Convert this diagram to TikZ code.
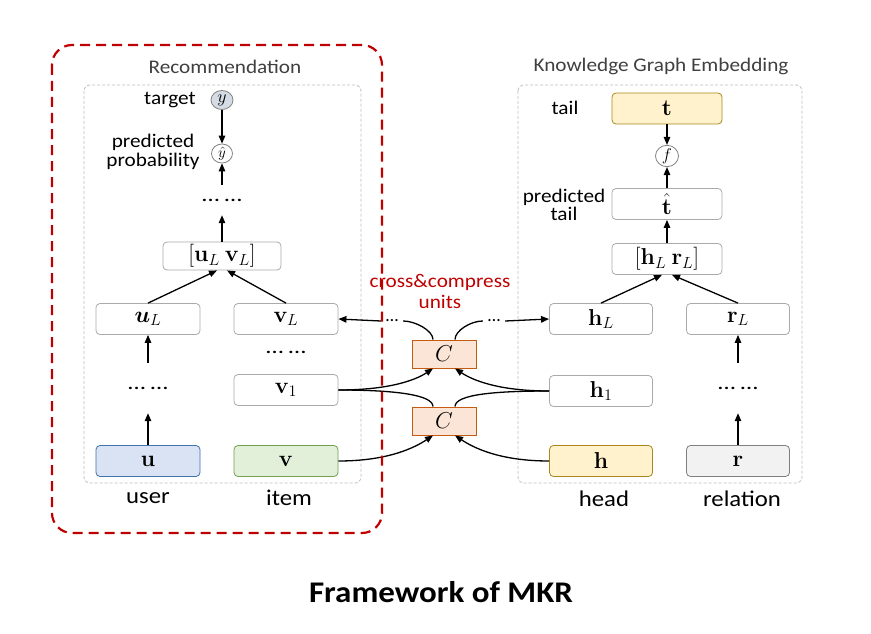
\RequirePackage{fix-cm}
\documentclass[tikz,border=0pt]{standalone}
\usepackage{amsmath,bm}
\usepackage[no-math]{fontspec}
\setmainfont{Carlito}
\usetikzlibrary{arrows.meta,shapes.geometric,calc}
\definecolor{boxgray}{RGB}{170,170,170}
\definecolor{dashgray}{RGB}{190,190,190}
\definecolor{ufill}{RGB}{218,227,243}
\definecolor{udraw}{RGB}{65,113,170}
\definecolor{vfill}{RGB}{226,240,217}
\definecolor{vdraw}{RGB}{112,160,80}
\definecolor{tfill}{RGB}{255,242,204}
\definecolor{tdraw}{RGB}{170,135,30}
\definecolor{rfill}{RGB}{242,242,242}
\definecolor{rdraw}{RGB}{127,127,127}
\definecolor{cfill}{RGB}{251,229,214}
\definecolor{cdraw}{RGB}{197,90,17}
\definecolor{yfill}{RGB}{214,220,229}
\definecolor{circgray}{RGB}{130,130,130}
\definecolor{mkrred}{RGB}{192,0,0}
\definecolor{titlegray}{RGB}{64,64,64}
\newcommand{\sfx}[1]{\scalebox{1.1}[1]{#1}}
\newcommand{\fs}[1]{\fontsize{#1}{#1}\selectfont}
\newcommand{\fsb}[2]{\fontsize{#1}{#2}\selectfont}
\newcommand{\dd}{\scalebox{1.25}[1]{…}\hspace{5pt}\scalebox{1.25}[1]{…}}
\begin{document}
\begin{tikzpicture}[x=1pt,y=-1pt,
  box/.style={draw=boxgray, line width=0.8pt, rounded corners=4pt, fill=white,
    minimum height=31pt, inner sep=0pt, font=\fs{23}},
  lab/.style={font=\fs{19.3}, inner sep=0pt},
  big/.style={font=\fs{22.5}, inner sep=0pt},
  grp/.style={font=\fs{19.3}, inner sep=0pt, text=titlegray},
  arr/.style={-{Triangle[length=8pt,width=6.5pt]}, line width=1.3pt},
  ln/.style={line width=1.3pt},
  cbox/.style={draw=cdraw, fill=cfill, line width=0.9pt, minimum width=64pt,
    minimum height=28pt, inner sep=0pt, font=\fs{23}},
  circ/.style={ellipse, draw=circgray, line width=0.8pt, minimum width=22pt,
    minimum height=19pt, inner sep=0pt},
  dts/.style={inner sep=0pt, font=\fs{20}},
  cont/.style={draw=dashgray, dash pattern=on 3pt off 2pt, rounded corners=6pt, line width=0.8pt}
]
\fill[white] (0,0) rectangle (871,634);
\useasboundingbox (0,0) rectangle (871,634);

% containers
\draw[cont] (84,85) rectangle (361,483);
\draw[cont] (518,85) rectangle (802,483);
\node[grp] (rectitle) at (225,67) {\sfx{Recommendation}};
\node[grp] (kgtitle) at (661,66) {\sfx{Knowledge Graph Embedding}};

% recommendation side
\node[circ, fill=yfill] (y) at (222,100) {\fs{18}$y$};
\node[lab, anchor=center] (targetlab) at (170,100) {\sfx{target}};
\node[circ, fill=white, minimum width=21pt] (yhat) at (222,153.5) {\fs{15}$\hat{y}$};
\node[lab, align=center, font=\fsb{19.3}{19}] (predlab) at (153,152) {\sfx{predicted}\\\sfx{probability}};
\node[dts, minimum height=30pt] (dots1) at (222,200) {\dd};
\node[box, minimum width=118pt, minimum height=28pt] (uLvL) at (222,256) {$[\mathbf{u}_L\ \mathbf{v}_L]$};
\node[box, minimum width=104pt] (uL) at (148,319) {$\bm{u}_L$};
\node[box, minimum width=104pt] (vL) at (286,319) {$\mathbf{v}_L$};
\node[dts] (dotsv) at (286,352) {\dd};
\node[box, minimum width=104pt] (v1) at (286,390) {$\mathbf{v}_1$};
\node[dts, minimum height=50pt] (dotsu) at (148,388) {\dd};
\node[box, minimum width=104pt, draw=udraw, fill=ufill] (u) at (148,461) {$\mathbf{u}$};
\node[box, minimum width=104pt, draw=vdraw, fill=vfill] (v) at (286,461) {$\mathbf{v}$};
\node[big] (userlab) at (148,498) {\sfx{user}};
\node[big] (itemlab) at (289,498) {\sfx{item}};

% KG side
\node[box, minimum width=110pt, draw=tdraw, fill=tfill] (t) at (667,108.5) {$\mathbf{t}$};
\node[lab] (taillab) at (565,108) {\sfx{tail}};
\node[circ, fill=white, minimum width=23pt, minimum height=20pt] (f) at (667,156) {\fs{17}$f$};
\node[box, minimum width=110pt] (that) at (667,204) {$\hat{\mathbf{t}}$};
\node[lab, align=center, font=\fsb{19.3}{18}] (ptlab) at (564,205) {\sfx{predicted}\\\sfx{tail}};
\node[box, minimum width=110pt] (hLrL) at (667,259) {$[\mathbf{h}_L\ \mathbf{r}_L]$};
\node[box, minimum width=103pt] (hL) at (601,319) {$\mathbf{h}_L$};
\node[box, minimum width=103pt] (rL) at (738,319) {$\mathbf{r}_L$};
\node[box, minimum width=103pt] (h1) at (601,391) {$\mathbf{h}_1$};
\node[dts, minimum height=50pt] (dotsr) at (738,388) {\dd};
\node[box, minimum width=103pt, draw=tdraw, fill=tfill] (h) at (601,461) {$\mathbf{h}$};
\node[box, minimum width=103pt, draw=rdraw, fill=rfill] (r) at (738,461) {$\mathbf{r}$};
\node[big] (headlab) at (604,499) {\sfx{head}};
\node[big] (rellab) at (742,499) {\sfx{relation}};

% cross & compress
\node[cbox] (Cu) at (444,354) {$C$};
\node[cbox] (Cl) at (444,421) {$C$};
\node[lab, text=mkrred, align=center, font=\fsb{19.3}{21}] (cclab) at (440,291) {\sfx{cross\&compress}\\\sfx{units}};
\node[inner sep=0pt, font=\fs{18}, minimum width=22pt, minimum height=8pt] (ldL) at (392,321) {…};
\node[inner sep=0pt, font=\fs{18}, minimum width=22pt, minimum height=8pt] (ldR) at (494,321) {…};

\coordinate (CuTL) at ($(Cu.north)+(-11,0)$);
\coordinate (CuTR) at ($(Cu.north)+(11,0)$);
\coordinate (CuBL) at ($(Cu.south)+(-11,0)$);
\coordinate (CuBR) at ($(Cu.south)+(11,0)$);
\coordinate (ClTL) at ($(Cl.north)+(-11,0)$);
\coordinate (ClTR) at ($(Cl.north)+(11,0)$);
\coordinate (ClBL) at ($(Cl.south)+(-11,0)$);
\coordinate (ClBR) at ($(Cl.south)+(11,0)$);

% vertical arrows
\draw[arr] (y) -- (yhat);
\draw[arr] (dots1) -- (yhat);
\draw[arr] (uLvL) -- (dots1);
\draw[arr] (uL.north) -- ($(uLvL.south)+(-5,0)$);
\draw[arr] (vL.north) -- ($(uLvL.south)+(5,0)$);
\draw[arr] (u) -- (dotsu);
\draw[arr] (dotsu) -- (uL);
\draw[arr] (t) -- (f);
\draw[arr] (that) -- (f);
\draw[arr] (hLrL) -- (that);
\draw[arr] (hL.north) -- ($(hLrL.south)+(-5,0)$);
\draw[arr] (rL.north) -- ($(hLrL.south)+(5,0)$);
\draw[arr] (r) -- (dotsr);
\draw[arr] (dotsr) -- (rL);

% cross connectors
\draw[ln] (CuTL) .. controls +(0,-9) and +(12,0) .. (ldL.east);
\draw[arr] (ldL.west) -- (vL.east);
\draw[ln] (CuTR) .. controls +(0,-9) and +(-12,0) .. (ldR.west);
\draw[arr] (ldR.east) -- (hL.west);
\draw[arr] (v1.east) .. controls +(50,0) and +(-18,12) .. (CuBL);
\draw[ln] (v1.east) .. controls +(55,0) and +(0,-12) .. (ClTL);
\draw[arr] (v.east) .. controls +(50,0) and +(-18,12) .. (ClBL);
\draw[arr] (h1.west) .. controls +(-50,0) and +(18,12) .. (CuBR);
\draw[ln] (h1.west) .. controls +(-55,0) and +(0,-12) .. (ClTR);
\draw[arr] (h.west) .. controls +(-50,0) and +(18,12) .. (ClBR);

% red dashed recommendation frame
\draw[mkrred, line width=2.2pt, dash pattern=on 10pt off 6pt, rounded corners=20pt] (52,45) rectangle (382,533);

\node[font=\fs{30}\bfseries, inner sep=0pt] (title) at (441,592) {\sfx{Framework of MKR}};
\end{tikzpicture}
\end{document}
